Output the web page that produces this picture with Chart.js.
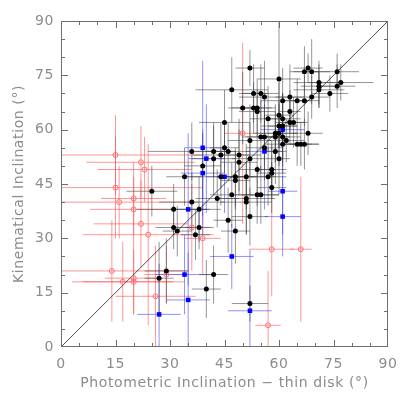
<!DOCTYPE html>
<html lang="en">
<head>
    <meta charset="UTF-8">
    <title>Kinematical vs Photometric Inclination</title>
    <script src="https://cdn.jsdelivr.net/npm/chart.js"></script>
    <style>
        html, body { margin: 0; padding: 0; background: #fff; }
        #wrap { width: 409px; height: 409px; }
    </style>
</head>
<body>
    <div id="wrap"><canvas id="incChart" width="409" height="409"></canvas></div>

    <script>
        // tick labels
        const tickValues = [0, 15, 30, 45, 60, 75, 90];

        // black filled circles
        const blackX = [52, 47, 60, 53, 55, 56, 50, 53, 54, 54, 45, 57, 60, 61, 63, 65, 67, 69, 63, 63, 64, 60, 61, 61,
            67, 68, 69, 71, 71, 71, 74, 76, 76, 77, 68, 65, 66, 67, 62, 61, 61, 59, 59, 60, 55, 56, 52, 56, 59, 60,
            36, 42, 44, 46, 45, 49, 49, 52, 39, 42, 34, 44, 48, 48, 51, 54, 57, 58, 58, 58, 25, 43, 47, 51, 51, 54,
            55, 36, 31, 38, 46, 52, 48, 31, 32, 37, 38, 29, 27, 40, 42, 52];
        const blackY = [77, 71, 74, 70, 70, 69, 66, 66, 66, 65, 62, 63, 64, 68, 69, 68, 68, 69, 65, 62, 62, 61, 61, 63,
            76, 77, 76, 73, 72, 71, 70, 76, 72, 73, 59, 56, 56, 56, 57, 58, 56, 59, 58, 59, 58, 58, 57, 55, 54, 52,
            54, 54, 53, 54, 55, 53, 51, 52, 50, 52, 47, 47, 47, 46, 47, 49, 47, 49, 48, 44, 43, 41, 42, 41, 40, 42,
            42, 40, 38, 38, 35, 36, 32, 33, 32, 31, 33, 21, 19, 16, 20, 12];
        const blackXErr = [4, 10, 6, 4, 5, 7, 4, 6, 4, 5, 7, 5, 4, 6, 4, 4, 4, 5, 3, 4, 4, 5, 4, 5,
            4, 4, 5, 7, 5, 7, 5, 6, 5, 9, 4, 4, 5, 4, 5, 5, 5, 6, 4, 5, 5, 5, 6, 5, 3, 3,
            12, 5, 8, 6, 4, 6, 5, 5, 5, 6, 5, 10, 5, 4, 8, 5, 5, 4, 4, 4, 7, 6, 6, 8, 7, 6,
            5, 9, 10, 6, 4, 5, 4, 5, 4, 4, 4, 6, 4, 4, 4, 5];
        const blackYErr = [5, 9, 16, 8, 8, 10, 10, 7, 8, 6, 9, 9, 9, 9, 9, 6, 7, 6, 6, 6, 7, 6, 9, 7,
            7, 4, 9, 6, 6, 5, 5, 5, 6, 5, 6, 6, 6, 7, 6, 7, 8, 8, 7, 9, 10, 9, 10, 9, 9, 10,
            8, 7, 9, 8, 7, 10, 9, 10, 9, 10, 8, 8, 8, 8, 9, 10, 8, 8, 8, 7, 7, 8, 9, 10, 9, 8,
            8, 8, 7, 9, 9, 8, 9, 6, 7, 7, 6, 9, 10, 8, 8, 5];

        // blue filled squares
        const blueX = [39, 40, 39, 45, 35, 47, 34, 35, 27, 52, 56, 61, 61, 61];
        const blueY = [55, 52, 48, 47, 38, 25, 20, 13, 9, 10, 54, 60, 43, 36];
        const blueXErr = [5, 5, 6, 5, 5, 6, 8, 6, 6, 6, 5, 6, 4, 5];
        const blueYErr = [24, 15, 12, 10, 21, 9, 11, 13, 14, 17, 16, 10, 12, 11];

        // red open circles
        const redX = [15, 15, 16, 20, 20, 22, 23, 22, 24, 14, 17, 20, 20, 26, 29, 36, 39, 50, 58, 66, 57];
        const redY = [53, 44, 40, 41, 38, 51, 49, 34, 31, 21, 18, 19, 18, 14, 20, 33, 30, 59, 27, 27, 6];
        const redXErr = [24, 24, 22, 9, 12, 15, 13, 13, 18, 21, 14, 8, 14, 11, 6, 5, 5, 5, 6, 3, 3.5];
        const redYErr = [11, 14, 10, 10, 9, 10, 9, 12, 25, 14, 11, 10, 9, 14, 8, 12, 10, 25, 13, 20, 15];

        function toPoints(xs, ys, xe, ye) {
            return xs.map((x, i) => ({ x: x, y: ys[i], xe: xe[i], ye: ye[i] }));
        }

        const GRAY = '#8c8c8c';
        const FONT = { family: 'DejaVu Sans', size: 14 };

        // wide, spaced-out lettering like the original plot
        const spacing = {
            id: 'spacing',
            beforeInit(chart) { chart.ctx.letterSpacing = '0.6px'; },
            beforeDraw(chart) { chart.ctx.letterSpacing = '0.6px'; }
        };

        // error bars behind the markers
        const errorBars = {
            id: 'errorBars',
            beforeDatasetsDraw(chart) {
                const { ctx, chartArea, scales: { x, y } } = chart;
                ctx.save();
                ctx.beginPath();
                ctx.rect(chartArea.left, chartArea.top, chartArea.right - chartArea.left, chartArea.bottom - chartArea.top);
                ctx.clip();
                ctx.lineWidth = 1;
                chart.data.datasets.slice().reverse().forEach(ds => {
                    if (!ds.barColor) return;
                    ctx.strokeStyle = ds.barColor;
                    ds.data.forEach(p => {
                        const px = x.getPixelForValue(p.x), py = y.getPixelForValue(p.y);
                        ctx.beginPath();
                        ctx.moveTo(x.getPixelForValue(p.x - p.xe), py);
                        ctx.lineTo(x.getPixelForValue(p.x + p.xe), py);
                        ctx.moveTo(px, y.getPixelForValue(p.y - p.ye));
                        ctx.lineTo(px, y.getPixelForValue(p.y + p.ye));
                        ctx.stroke();
                    });
                });
                ctx.restore();
            }
        };

        // box with inward ticks on all four sides
        const frame = {
            id: 'frame',
            afterDatasetsDraw(chart) {
                const { ctx, chartArea: a, scales: { x, y } } = chart;
                ctx.save();
                ctx.strokeStyle = '#6e6e6e';
                ctx.lineWidth = 1;
                ctx.strokeRect(a.left + 0.5, a.top + 0.5, a.right - a.left - 1, a.bottom - a.top - 1);
                ctx.beginPath();
                for (let v = 5; v < 90; v += 5) {
                    const len = v % 15 === 0 ? 7 : 4;
                    const px = Math.round(x.getPixelForValue(v)) + 0.5;
                    const py = Math.round(y.getPixelForValue(v)) + 0.5;
                    ctx.moveTo(px, a.bottom); ctx.lineTo(px, a.bottom - len);
                    ctx.moveTo(px, a.top); ctx.lineTo(px, a.top + len);
                    ctx.moveTo(a.left, py); ctx.lineTo(a.left + len, py);
                    ctx.moveTo(a.right, py); ctx.lineTo(a.right - len, py);
                }
                ctx.stroke();
                ctx.restore();
            }
        };

        new Chart(document.getElementById('incChart'), {
            type: 'scatter',
            data: {
                datasets: [
                    {
                        data: toPoints(blackX, blackY, blackXErr, blackYErr),
                        barColor: 'rgba(60,60,60,0.55)',
                        pointStyle: 'circle', pointRadius: 2.5,
                        backgroundColor: '#000', borderWidth: 0
                    },
                    {
                        data: toPoints(blueX, blueY, blueXErr, blueYErr),
                        barColor: 'rgba(70,70,255,0.6)',
                        pointStyle: 'rect', pointRadius: 3.2,
                        backgroundColor: '#0000ff', borderWidth: 0
                    },
                    {
                        data: toPoints(redX, redY, redXErr, redYErr),
                        barColor: 'rgba(255,80,80,0.6)',
                        pointStyle: 'circle', pointRadius: 2.5,
                        backgroundColor: 'rgba(0,0,0,0)', borderColor: '#ff7070', borderWidth: 1
                    },
                    {
                        type: 'line',
                        data: [{ x: 0, y: 0 }, { x: 90, y: 90 }],
                        borderColor: '#222', borderWidth: 0.8,
                        pointRadius: 0
                    }
                ]
            },
            options: {
                responsive: false,
                animation: false,
                events: [],
                layout: { padding: { top: 21, right: 21, left: 0, bottom: 0 } },
                plugins: { legend: { display: false }, tooltip: { enabled: false } },
                scales: {
                    x: {
                        type: 'linear', min: 0, max: 90,
                        afterBuildTicks: s => { s.ticks = tickValues.map(v => ({ value: v })); },
                        afterFit: s => { s.height = 62; },
                        grid: { display: false, drawTicks: false },
                        border: { display: false },
                        ticks: { color: GRAY, font: FONT, padding: 9, maxRotation: 0 },
                        title: {
                            display: true, text: 'Photometric Inclination \u2212 thin disk (\u00b0)',
                            color: GRAY, font: FONT, padding: { top: 0, bottom: 17 }
                        }
                    },
                    y: {
                        type: 'linear', min: 0, max: 90,
                        afterBuildTicks: s => { s.ticks = tickValues.map(v => ({ value: v })); },
                        afterFit: s => { s.width = 61; },
                        grid: { display: false, drawTicks: false },
                        border: { display: false },
                        ticks: { color: GRAY, font: FONT, padding: 7 },
                        title: {
                            display: true, text: 'Kinematical Inclination (\u00b0)',
                            color: GRAY, font: FONT, padding: { top: 11, bottom: 0 }
                        }
                    }
                }
            },
            plugins: [spacing, errorBars, frame]
        });
    </script>
</body>
</html>
